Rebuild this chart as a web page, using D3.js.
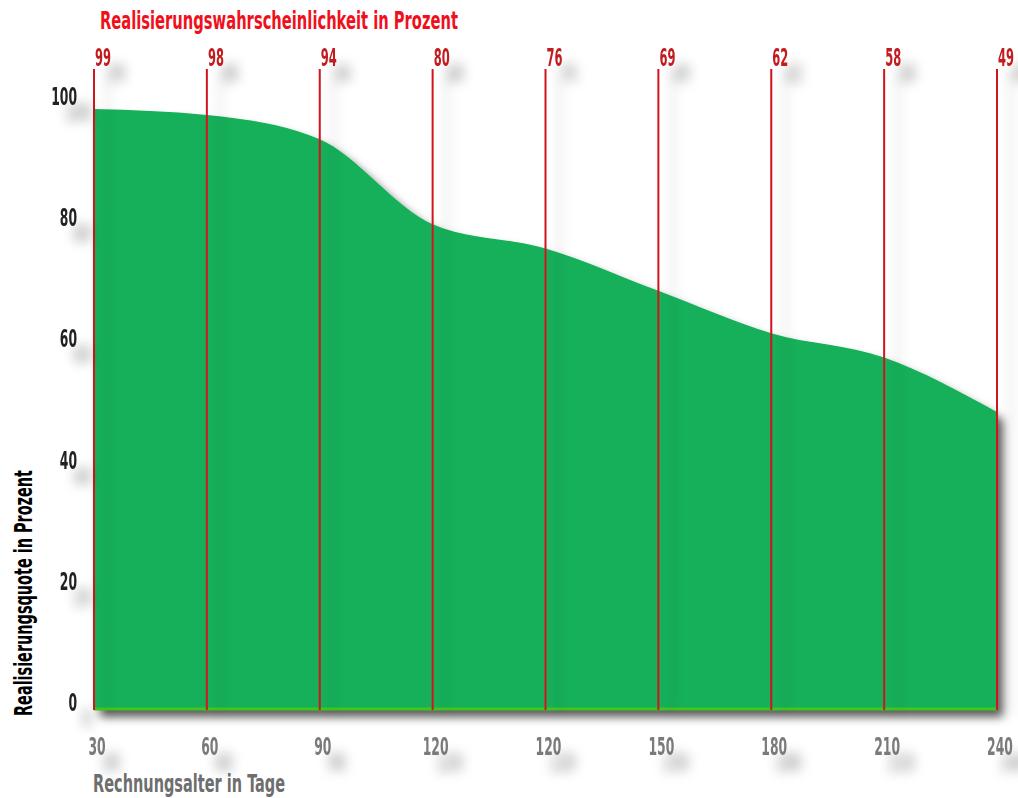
<!DOCTYPE html>
<html>
<head>
<meta charset="utf-8">
<script src="https://cdn.jsdelivr.net/npm/d3@7"></script>
<style>
  html, body { margin: 0; padding: 0; background: #fff; }
  text { font-family: "Liberation Sans Narrow", "DejaVu Sans Condensed", "Roboto", sans-serif; font-weight: bold; }
</style>
</head>
<body>
<div id="chart"></div>
<script>
const days = ["30", "60", "90", "120", "120", "150", "180", "210", "240"];
const probability = [99, 98, 94, 80, 76, 69, 62, 58, 49];
const yTicks = [0, 20, 40, 60, 80, 100];

const width = 1018
, height = 798
, green = "#19b05a"
, red = "#d0161e"
, darkRed = "#c21a1f"
, digitWidth = 8.6;

const svg = d3.select("#chart")
  .append("svg")
  .attr("width", width)
  .attr("height", height);

const defs = svg.append("defs");

// filters use the whole page as region so thin lines keep their shadow
function addShadow(id, dx, dy, std, opacity) {
  const f = defs.append("filter")
    .attr("id", id)
    .attr("filterUnits", "userSpaceOnUse")
    .attr("x", 0).attr("y", 0)
    .attr("width", width).attr("height", height);
  f.append("feDropShadow")
    .attr("dx", dx).attr("dy", dy)
    .attr("stdDeviation", std)
    .attr("flood-color", "#000")
    .attr("flood-opacity", opacity);
}
addShadow("areaShadow", 6, 8, 5, 0.65);
addShadow("textShadow", 14, 16, 6, 0.35);
addShadow("lineShadow", 14, 4, 6, 0.2);

const x = d3.scaleLinear()
  .domain([0, days.length - 1])
  .range([94, 997]);

const y = d3.scaleLinear()
  .domain([0, 100])
  .range([709, 103]);

// green area
const area = d3.area()
  .x((d, i) => x(i))
  .y0(y(0))
  .y1(d => y(d))
  .curve(d3.curveMonotoneX);

svg.append("path")
  .datum(probability)
  .attr("d", area)
  .style("fill", green)
  .attr("filter", "url(#areaShadow)");

// baseline
svg.append("line")
  .attr("x1", x(0))
  .attr("x2", x(days.length - 1))
  .attr("y1", y(0))
  .attr("y2", y(0))
  .style("stroke", "#3fc81a")
  .style("stroke-width", 3);

// red vertical lines
svg.selectAll(".vline")
  .data(probability)
  .enter().append("line")
  .attr("class", "vline")
  .attr("x1", (d, i) => x(i))
  .attr("x2", (d, i) => x(i))
  .attr("y1", 69)
  .attr("y2", y(0) + 1)
  .style("stroke", red)
  .style("stroke-width", 2)
  .attr("filter", "url(#lineShadow)");

// top value labels
svg.selectAll(".topLabel")
  .data(probability)
  .enter().append("text")
  .attr("class", "topLabel")
  .attr("x", (d, i) => x(i) + 1)
  .attr("y", 66)
  .attr("textLength", d => String(d).length * 8)
  .attr("lengthAdjust", "spacingAndGlyphs")
  .text(d => d)
  .style("font-size", "24px")
  .style("fill", darkRed)
  .attr("filter", "url(#textShadow)");

// y tick labels
svg.selectAll(".yLabel")
  .data(yTicks)
  .enter().append("text")
  .attr("class", "yLabel")
  .attr("x", 77)
  .attr("y", d => y(d) + 2)
  .attr("text-anchor", "end")
  .attr("textLength", d => String(d).length * digitWidth)
  .attr("lengthAdjust", "spacingAndGlyphs")
  .text(d => d)
  .style("font-size", "24px")
  .style("fill", "#222")
  .attr("filter", "url(#textShadow)");

// x tick labels
svg.selectAll(".xLabel")
  .data(days)
  .enter().append("text")
  .attr("class", "xLabel")
  .attr("x", (d, i) => x(i) + 3)
  .attr("y", 755)
  .attr("text-anchor", "middle")
  .attr("textLength", d => d.length * digitWidth)
  .attr("lengthAdjust", "spacingAndGlyphs")
  .text(d => d)
  .style("font-size", "24px")
  .style("fill", "#7a7a7a")
  .attr("filter", "url(#textShadow)");

// titles
svg.append("text")
  .attr("x", 100)
  .attr("y", 29)
  .attr("textLength", 358)
  .attr("lengthAdjust", "spacingAndGlyphs")
  .text("Realisierungswahrscheinlichkeit in Prozent")
  .style("font-size", "25px")
  .style("fill", "#f0101c");

svg.append("text")
  .attr("x", 93)
  .attr("y", 792)
  .attr("textLength", 192)
  .attr("lengthAdjust", "spacingAndGlyphs")
  .text("Rechnungsalter in Tage")
  .style("font-size", "24px")
  .style("fill", "#6e6e6e");

svg.append("text")
  .attr("transform", "translate(32,716) rotate(-90)")
  .attr("textLength", 246)
  .attr("lengthAdjust", "spacingAndGlyphs")
  .text("Realisierungsquote in Prozent")
  .style("font-size", "24px")
  .style("fill", "#000");
</script>
</body>
</html>
